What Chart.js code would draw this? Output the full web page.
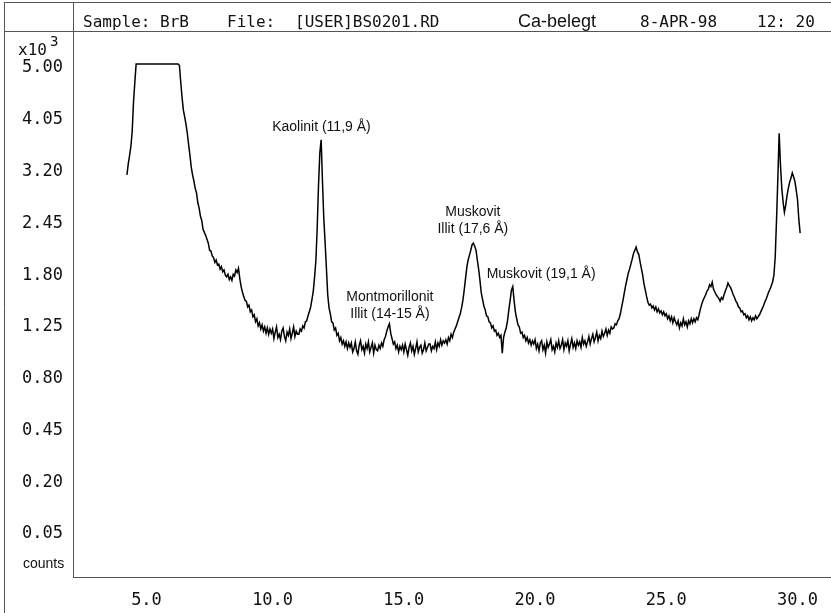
<!DOCTYPE html>
<html><head><meta charset="utf-8">
<script src="https://cdn.jsdelivr.net/npm/chart.js@4/dist/chart.umd.min.js"></script>
<style>html,body{margin:0;padding:0;background:#fff;}canvas{display:block;}</style>
</head><body>
<canvas id="c" width="831" height="613"></canvas>
<script>
// ---- data ----
// scan: start angle and step (degrees 2-theta)
const scanStart = 4.45;
const scanStep = 0.05;
// counts in thousands (x10^3), one row per degree
const counts = [
  3.15,3.32,3.45,3.60,3.85,4.36,4.72,5.08,5.08,5.08,5.08,                                             // 4.45-4.95
  5.08,5.08,5.08,5.08,5.08,5.08,5.08,5.08,5.08,5.08,5.08,5.08,5.08,5.08,5.08,5.08,5.08,5.08,5.08,5.08, // 5
  5.08,5.08,5.08,5.08,5.08,5.08,5.08,5.08,5.08,5.05,4.73,4.45,4.22,4.10,3.97,3.82,3.63,3.46,3.27,3.15, // 6
  3.06,2.95,2.88,2.74,2.66,2.55,2.49,2.37,2.33,2.29,2.24,2.19,2.10,2.09,2.03,2.01,1.95,1.98,1.92,1.93, // 7
  1.87,1.90,1.84,1.86,1.80,1.78,1.81,1.75,1.78,1.74,1.81,1.79,1.86,1.83,1.88,1.76,1.67,1.61,1.56,1.52, // 8
  1.51,1.45,1.47,1.40,1.42,1.35,1.37,1.30,1.33,1.26,1.29,1.23,1.27,1.21,1.25,1.19,1.24,1.18,1.23,1.19, // 9
  1.23,1.14,1.20,1.25,1.15,1.18,1.13,1.21,1.24,1.16,1.12,1.20,1.17,1.23,1.14,1.19,1.25,1.16,1.21,1.18, // 10
  1.18,1.23,1.21,1.26,1.24,1.30,1.31,1.36,1.40,1.45,1.53,1.62,1.78,1.98,2.40,3.00,3.50,3.71,3.05,2.52, // 11
  2.20,1.88,1.58,1.44,1.38,1.30,1.29,1.22,1.24,1.17,1.19,1.12,1.15,1.09,1.12,1.07,1.11,1.05,1.10,1.06, // 12
  1.10,1.02,1.05,1.11,1.03,1.00,1.08,1.12,1.04,1.07,1.01,1.09,1.05,1.11,1.02,1.06,1.10,1.01,1.08,1.04, // 13
  1.03,1.08,1.05,1.10,1.07,1.13,1.16,1.21,1.25,1.28,1.19,1.14,1.09,1.11,1.05,1.08,1.02,1.07,1.04,1.08, // 14
  1.02,1.09,1.04,0.99,1.06,1.10,1.03,1.07,1.00,1.05,1.11,1.02,1.06,1.08,1.01,1.04,1.10,1.03,1.06,1.09, // 15
  1.09,1.03,1.07,1.05,1.11,1.04,1.10,1.07,1.13,1.08,1.12,1.10,1.13,1.09,1.15,1.12,1.18,1.15,1.20,1.23, // 16
  1.26,1.30,1.34,1.38,1.44,1.52,1.63,1.76,1.89,1.98,2.04,2.10,2.17,2.19,2.15,2.10,1.98,1.87,1.74,1.60, // 17
  1.53,1.46,1.42,1.36,1.35,1.30,1.29,1.24,1.26,1.21,1.22,1.17,1.19,1.15,1.17,1.01,1.15,1.20,1.24,1.31, // 18
  1.42,1.52,1.63,1.67,1.52,1.40,1.33,1.27,1.25,1.19,1.20,1.15,1.17,1.12,1.15,1.10,1.13,1.08,1.12,1.09, // 19
  1.13,1.05,1.09,1.03,1.10,1.12,1.04,1.08,1.01,1.11,1.06,1.09,1.13,1.04,1.07,1.02,1.10,1.06,1.12,1.05, // 20
  1.08,1.13,1.04,1.10,1.07,1.12,1.03,1.09,1.14,1.06,1.10,1.05,1.12,1.08,1.11,1.06,1.15,1.09,1.12,1.07, // 21
  1.11,1.16,1.09,1.14,1.18,1.11,1.15,1.20,1.12,1.17,1.14,1.21,1.16,1.19,1.23,1.17,1.22,1.19,1.25,1.23, // 22
  1.24,1.28,1.27,1.31,1.33,1.38,1.45,1.52,1.60,1.68,1.75,1.82,1.87,1.93,1.99,2.06,2.10,2.14,2.08,2.05, // 23
  1.96,1.88,1.80,1.70,1.63,1.56,1.50,1.47,1.48,1.44,1.46,1.42,1.45,1.40,1.43,1.39,1.41,1.37,1.40,1.36, // 24
  1.38,1.33,1.36,1.31,1.35,1.29,1.34,1.30,1.27,1.31,1.24,1.29,1.26,1.33,1.27,1.30,1.25,1.31,1.28,1.33, // 25
  1.29,1.33,1.30,1.34,1.32,1.37,1.43,1.48,1.52,1.55,1.58,1.62,1.64,1.69,1.67,1.72,1.64,1.61,1.58,1.56, // 26
  1.54,1.51,1.55,1.53,1.58,1.62,1.66,1.71,1.68,1.66,1.62,1.58,1.55,1.51,1.49,1.45,1.44,1.40,1.41,1.37, // 27
  1.38,1.34,1.36,1.32,1.35,1.31,1.34,1.32,1.36,1.33,1.35,1.37,1.40,1.43,1.46,1.50,1.53,1.57,1.61,1.64, // 28
  1.68,1.72,1.80,2.02,2.50,3.10,3.82,3.30,2.95,2.75,2.60,2.70,2.84,2.95,3.04,3.10,3.18,3.12,3.05,2.92, // 29
  2.78,2.50,2.32                                                                                        // 30.00-30.10
];
const twoTheta = counts.map((_, i) => +(scanStart + i * scanStep).toFixed(2));
const xTicks = [5, 10, 15, 20, 25, 30];
const yTicks = [0.05, 0.20, 0.45, 0.80, 1.25, 1.80, 2.45, 3.20, 4.05, 5.00];
const headerTexts = ["Sample: BrB", "File:", "[USER]BS0201.RD", "Ca-belegt", "8-APR-98", "12: 20"];
const peakLabels = [
  ["Kaolinit (11,9 Å)"],
  ["Muskovit", "Illit (17,6 Å)"],
  ["Muskovit (19,1 Å)"],
  ["Montmorillonit", "Illit (14-15 Å)"]
];
const peakAnchors = [[11.86, 3.92], [17.63, 2.60], [20.23, 1.81], [14.47, 1.55]];

// ---- square-root scale ----
class SqrtScale extends Chart.LinearScale {
  buildTicks() { return yTicks.map(v => ({ value: v })); }
  configure() {
    super.configure();
    this._sMin = Math.sqrt(Math.max(this.min, 0));
    this._sMax = Math.sqrt(this.max);
  }
  getPixelForValue(v) {
    const d = (Math.sqrt(Math.max(v, 0)) - this._sMin) / (this._sMax - this._sMin);
    return this.getPixelForDecimal(d);
  }
  getValueForPixel(p) {
    const s = this._sMin + this.getDecimalForPixel(p) * (this._sMax - this._sMin);
    return s * s;
  }
}
SqrtScale.id = 'sqrt';
SqrtScale.defaults = Chart.LinearScale.defaults;
Chart.register(SqrtScale);

const MONO = '"DejaVu Sans Mono", monospace';
const SANS = '"Liberation Sans", Arial, sans-serif';

const framePlugin = {
  id: 'frame',
  afterDraw(chart) {
    const ctx = chart.ctx, a = chart.chartArea;
    const xs = chart.scales.x, ys = chart.scales.y;
    ctx.save();
    ctx.strokeStyle = '#555';
    ctx.lineWidth = 1;
    ctx.beginPath();
    ctx.moveTo(4.5, 2.5); ctx.lineTo(4.5, 613);
    ctx.moveTo(4, 2.5); ctx.lineTo(831, 2.5);
    ctx.moveTo(4, 31.5); ctx.lineTo(831, 31.5);
    ctx.moveTo(Math.round(a.left) + 0.5, 2.5); ctx.lineTo(Math.round(a.left) + 0.5, Math.round(a.bottom) + 0.5);
    ctx.moveTo(a.left, Math.round(a.bottom) + 0.5); ctx.lineTo(831, Math.round(a.bottom) + 0.5);
    ctx.stroke();

    ctx.fillStyle = '#111';
    ctx.textBaseline = 'alphabetic';
    ctx.textAlign = 'left';
    const hx = [83, 227, 295, 518, 640, 757];
    headerTexts.forEach((t, i) => {
      ctx.font = (i === 3 ? '18px ' + SANS : '16px ' + MONO);
      ctx.fillText(t, hx[i], 27);
    });
    ctx.font = '16px ' + MONO;
    ctx.fillText('x10', 18, 55);
    ctx.font = '14px ' + MONO;
    ctx.fillText('3', 50, 46);
    ctx.font = '14px ' + SANS;
    ctx.fillText('counts', 23, 568);

    ctx.font = '14px ' + SANS;
    ctx.textAlign = 'center';
    ctx.textBaseline = 'middle';
    peakLabels.forEach((lines, i) => {
      const px = xs.getPixelForValue(peakAnchors[i][0]);
      const py = ys.getPixelForValue(peakAnchors[i][1]);
      lines.forEach((t, j) => ctx.fillText(t, px, py + j * 17));
    });
    ctx.restore();
  }
};

new Chart(document.getElementById('c'), {
  type: 'line',
  data: {
    datasets: [{
      data: twoTheta.map((t, i) => ({ x: t, y: counts[i] })),
      borderColor: '#000',
      borderWidth: 1.5,
      pointRadius: 0,
      tension: 0,
      fill: false
    }]
  },
  options: {
    responsive: false,
    animation: false,
    layout: { padding: { top: 32, right: 0, left: 0, bottom: 0 } },
    plugins: { legend: { display: false }, tooltip: { enabled: false } },
    scales: {
      x: {
        type: 'linear', min: 2.395, max: 31.217,
        afterBuildTicks(s) { s.ticks = xTicks.map(v => ({ value: v })); },
        afterFit(s) { s.height = 36; },
        grid: { display: false, drawTicks: false },
        border: { display: false },
        ticks: {
          autoSkip: false, maxRotation: 0, padding: 13, color: '#111',
          font: { family: MONO, size: 17 },
          callback: v => v.toFixed(1).padStart(4, ' ')
        }
      },
      y: {
        type: 'sqrt', min: 0.00145, max: 5.72,
        afterFit(s) { s.width = 73; },
        grid: { display: false, drawTicks: false },
        border: { display: false },
        ticks: {
          autoSkip: false, padding: 10, color: '#111',
          font: { family: MONO, size: 17 },
          callback: v => v.toFixed(2)
        }
      }
    }
  },
  plugins: [framePlugin]
});
</script>
</body></html>
